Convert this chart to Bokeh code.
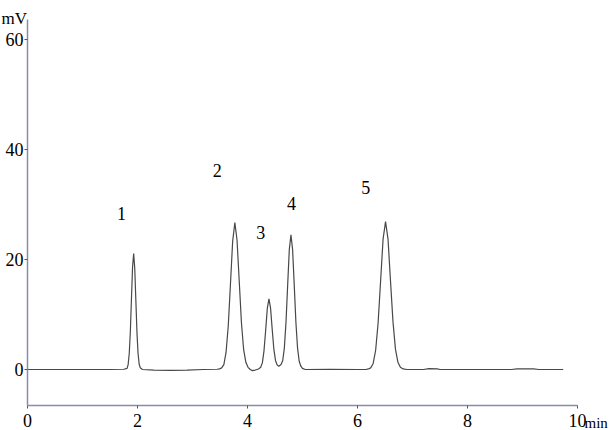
from bokeh.plotting import figure
from bokeh.models import Range1d, FixedTicker, ColumnDataSource
from bokeh.core.properties import value
from bokeh.embed import file_html
from bokeh.resources import INLINE

# chromatogram trace (time in min, signal in mV)
time = [0.00, 0.50, 1.00, 1.50, 1.75, 1.81, 1.83, 1.85, 1.87, 1.89, 1.91, 1.93, 1.95, 1.97,
        1.99, 2.01, 2.03, 2.05, 2.09, 2.30, 2.60, 2.90, 3.20, 3.45, 3.49, 3.53, 3.57, 3.61,
        3.65, 3.69, 3.73, 3.77, 3.81, 3.85, 3.89, 3.93, 3.97, 4.01, 4.05, 4.09, 4.14, 4.20,
        4.24, 4.27, 4.30, 4.33, 4.36, 4.39, 4.42, 4.45, 4.48, 4.51, 4.54, 4.57, 4.61, 4.64,
        4.67, 4.70, 4.73, 4.76, 4.79, 4.82, 4.85, 4.88, 4.91, 4.94, 4.97, 5.00, 5.05, 5.50,
        6.00, 6.15, 6.20, 6.24, 6.285, 6.33, 6.375, 6.42, 6.465, 6.51, 6.555, 6.60, 6.645,
        6.69, 6.735, 6.78, 6.83, 6.90, 7.20, 7.30, 7.45, 7.50, 8.00, 8.80, 8.90, 9.20, 9.30, 9.74]
signal = [0.0, 0.0, 0.0, 0.0, 0.05, 0.2, 0.9, 2.9, 6.9, 12.8, 18.6, 21.1, 18.4, 12.6,
          6.8, 2.9, 1.0, 0.3, 0.0, -0.1, -0.15, -0.1, 0.0, 0.05, 0.1, 0.3, 0.9, 3.1,
          7.9, 15.5, 23.3, 26.7, 23.5, 16.0, 8.5, 3.6, 1.3, 0.4, 0.0, -0.2, -0.1, 0.1,
          0.4, 1.2, 3.4, 7.1, 11.1, 12.85, 11.1, 7.2, 3.6, 1.6, 0.8, 0.6, 0.9, 1.6,
          3.9, 8.6, 15.3, 21.8, 24.5, 21.8, 15.3, 8.6, 3.9, 1.5, 0.6, 0.2, 0.0, 0.05,
          0.0, 0.0, 0.1, 0.3, 1.1, 3.5, 8.5, 16.1, 23.7, 26.9, 23.7, 16.1, 8.7,
          3.7, 1.3, 0.4, 0.1, 0.0, 0.0, 0.15, 0.1, 0.0, 0.0, 0.0, 0.1, 0.1, 0.0, 0.0]

# peak numbers
peak_labels = ["1", "2", "3", "4", "5"]
peak_label_x = [1.71, 3.45, 4.24, 4.80, 6.15]
peak_label_y = [28.3, 36.2, 25.0, 30.1, 33.1]

# axes
x_ticks = [0, 2, 4, 6, 8, 10]
y_ticks = [0, 20, 40, 60]
x_axis_span = (0, 10)
y_axis_span = (-6.55, 63.64)

# unit labels (x, y in data units)
unit_y_text, unit_y_x, unit_y_y = "mV", -0.473, 63.76
unit_x_text, unit_x_x, unit_x_y = "min", 10.127, -9.64

SERIF = "Liberation Serif"
AXIS_COLOR = "#8a8aaa"

p = figure(width=614, height=430, output_backend="svg", toolbar_location=None,
           x_range=Range1d(-0.4909, 10.6727), y_range=Range1d(-11.09, 67.09),
           min_border=0, min_border_left=0, min_border_right=0,
           min_border_top=0, min_border_bottom=0)
p.outline_line_color = None
p.grid.visible = False
p.background_fill_color = "white"
p.border_fill_color = "white"

for ax in (p.xaxis[0], p.yaxis[0]):
    ax.axis_line_color = AXIS_COLOR
    ax.axis_line_width = 1.5
    ax.major_tick_line_color = "#555566"
    ax.major_tick_out = 3
    ax.major_tick_in = 0
    ax.minor_tick_line_color = None
    ax.major_label_text_font = SERIF
    ax.major_label_text_font_size = "18px"
    ax.major_label_text_color = "black"
p.yaxis.major_label_standoff = 1
p.xaxis.major_label_standoff = 5

p.xaxis.ticker = FixedTicker(ticks=x_ticks)
p.yaxis.ticker = FixedTicker(ticks=y_ticks)
p.xaxis.fixed_location = y_axis_span[0]
p.xaxis.bounds = x_axis_span
p.yaxis.fixed_location = x_axis_span[0]
p.yaxis.bounds = y_axis_span

src = ColumnDataSource(dict(t=time, s=signal))
p.line("t", "s", source=src, line_color="#484848", line_width=1.2)

lab_src = ColumnDataSource(dict(x=peak_label_x, y=peak_label_y, txt=peak_labels))
p.text("x", "y", text="txt", source=lab_src, text_font=value(SERIF),
       text_font_size="18px", text_align="center", text_baseline="middle",
       text_color="black")

p.text(x=[unit_y_x], y=[unit_y_y], text=[unit_y_text], text_font=value(SERIF),
       text_font_size="17px", text_align="left", text_baseline="alphabetic",
       text_color="black")
p.text(x=[unit_x_x], y=[unit_x_y], text=[unit_x_text], text_font=value(SERIF),
       text_font_size="15px", text_align="left", text_baseline="alphabetic",
       text_color="black")

open("out.html", "w").write(file_html(p, INLINE))
